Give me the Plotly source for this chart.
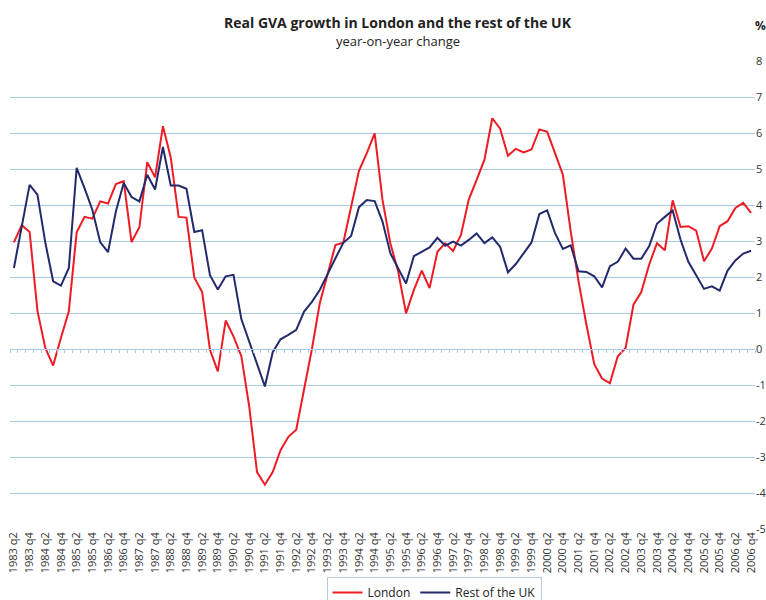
import plotly.graph_objects as go

years = list(range(1983, 2007))
quarters = [f"{y} q{q}" for y in years for q in (1, 2, 3, 4)][1:]  # 1983 q2 .. 2006 q4

london = [2.96, 3.44, 3.25, 1.06, 0.03, -0.46, 0.31, 1.05, 3.24, 3.67,
          3.62, 4.10, 4.04, 4.58, 4.66, 2.97, 3.38, 5.19, 4.77, 6.19,
          5.32, 3.67, 3.65, 1.99, 1.58, -0.02, -0.62, 0.79, 0.35, -0.20,
          -1.59, -3.42, -3.77, -3.42, -2.81, -2.44, -2.24, -1.10, 0.00, 1.27,
          2.08, 2.89, 2.95, 4.00, 4.95, 5.44, 5.99, 4.14, 2.94, 2.15,
          0.99, 1.64, 2.18, 1.69, 2.70, 2.94, 2.72, 3.17, 4.15, 4.70,
          5.26, 6.41, 6.12, 5.37, 5.56, 5.46, 5.54, 6.10, 6.03, 5.44,
          4.84, 3.27, 1.88, 0.68, -0.42, -0.82, -0.95, -0.20, 0.03, 1.23,
          1.58, 2.34, 2.94, 2.74, 4.13, 3.39, 3.41, 3.29, 2.44, 2.79,
          3.41, 3.55, 3.92, 4.06, 3.78]

rest_uk = [2.25, 3.41, 4.56, 4.29, 2.96, 1.88, 1.76, 2.25, 5.03, 4.47,
           3.87, 2.97, 2.69, 3.82, 4.61, 4.22, 4.10, 4.84, 4.43, 5.61,
           4.54, 4.54, 4.45, 3.25, 3.30, 2.05, 1.65, 2.02, 2.06, 0.83,
           0.22, -0.40, -1.04, -0.09, 0.27, 0.39, 0.53, 1.04, 1.31, 1.64,
           2.10, 2.52, 2.95, 3.14, 3.94, 4.14, 4.11, 3.54, 2.66, 2.24,
           1.82, 2.58, 2.69, 2.82, 3.09, 2.87, 2.98, 2.87, 3.03, 3.21,
           2.94, 3.10, 2.84, 2.13, 2.36, 2.67, 2.96, 3.75, 3.85, 3.22,
           2.78, 2.88, 2.16, 2.14, 2.02, 1.71, 2.30, 2.42, 2.79, 2.51,
           2.51, 2.85, 3.48, 3.67, 3.85, 3.04, 2.42, 2.05, 1.67, 1.74,
           1.62, 2.18, 2.46, 2.65, 2.73]

y_ticks = [8, 7, 6, 5, 4, 3, 2, 1, 0, -1, -2, -3, -4, -5]

RED = "#ED1C24"
NAVY = "#232A6B"
GRID = "#A9CBEA"
FONT = "Open Sans"

# plot area in pixels
L, R, T, B = 10, 755, 61, 529
W, H = 766, 600
pw, ph = R - L, B - T


def px(x):
    return (x - L) / pw


def py(y):
    return (B - y) / ph


fig = go.Figure()
fig.add_trace(go.Scatter(x=quarters, y=london, mode="lines", name="London",
                         line=dict(color=RED, width=2)))
fig.add_trace(go.Scatter(x=quarters, y=rest_uk, mode="lines", name="Rest of the UK",
                         line=dict(color=NAVY, width=2)))
# helper trace for the zero-line tick axis
fig.add_trace(go.Scatter(x=[], y=[], xaxis="x2", showlegend=False, hoverinfo="skip"))

n = len(quarters)
fig.update_layout(
    width=W, height=H,
    margin=dict(l=L, r=W - R, t=T, b=H - B, autoexpand=False),
    paper_bgcolor="white", plot_bgcolor="white",
    font=dict(family=FONT, color="#222222", size=12),
    showlegend=True,
    legend=dict(orientation="h", x=px(434), xanchor="center", y=py(577), yanchor="top",
                bordercolor="#B8CCE0", borderwidth=1, bgcolor="white",
                font=dict(size=12, family=FONT), itemwidth=30, tracegroupgap=0),
    xaxis=dict(type="category", categoryorder="array", categoryarray=quarters,
               range=[-0.5, n - 0.5], tickmode="array", tickvals=quarters[::2],
               ticktext=quarters[::2], tickangle=-90, showgrid=False, showline=False,
               ticks="", zeroline=False, automargin=False,
               tickfont=dict(size=11, family=FONT, color="#333333")),
    xaxis2=dict(overlaying="x", anchor="free", position=5 / 13, type="linear",
                range=[-0.5, n - 0.5], tickmode="array",
                tickvals=[k - 0.5 for k in range(n + 1)], ticks="outside", ticklen=3,
                tickwidth=1, tickcolor=GRID, showticklabels=False, showline=True,
                linecolor=GRID, linewidth=1, showgrid=False, zeroline=False,
                automargin=False),
    yaxis=dict(side="right", range=[-5, 8], tickmode="array", tickvals=y_ticks,
               ticktext=[str(v) for v in y_ticks], showgrid=True, gridcolor=GRID,
               gridwidth=1, zeroline=False, showline=False, ticks="", automargin=False,
               tickfont=dict(size=11, family=FONT, color="#333333")),
)
fig.add_annotation(text="<b>Real GVA growth in London and the rest of the UK</b>",
                   x=px(398), y=py(22), xref="paper", yref="paper", xanchor="center",
                   yanchor="middle", showarrow=False, font=dict(size=14, family=FONT))
fig.add_annotation(text="year-on-year change", x=px(398), y=py(41),
                   xref="paper", yref="paper", xanchor="center", yanchor="middle",
                   showarrow=False, font=dict(size=13, family=FONT, color="#222222"))
fig.add_annotation(text="<b>%</b>", xref="paper", yref="paper", x=px(753),
                   y=py(25), xanchor="left", yanchor="middle", showarrow=False,
                   font=dict(size=12, family=FONT))

fig.write_html("out.html", config={"displayModeBar": False},
               post_script="document.body.style.margin='0';")
